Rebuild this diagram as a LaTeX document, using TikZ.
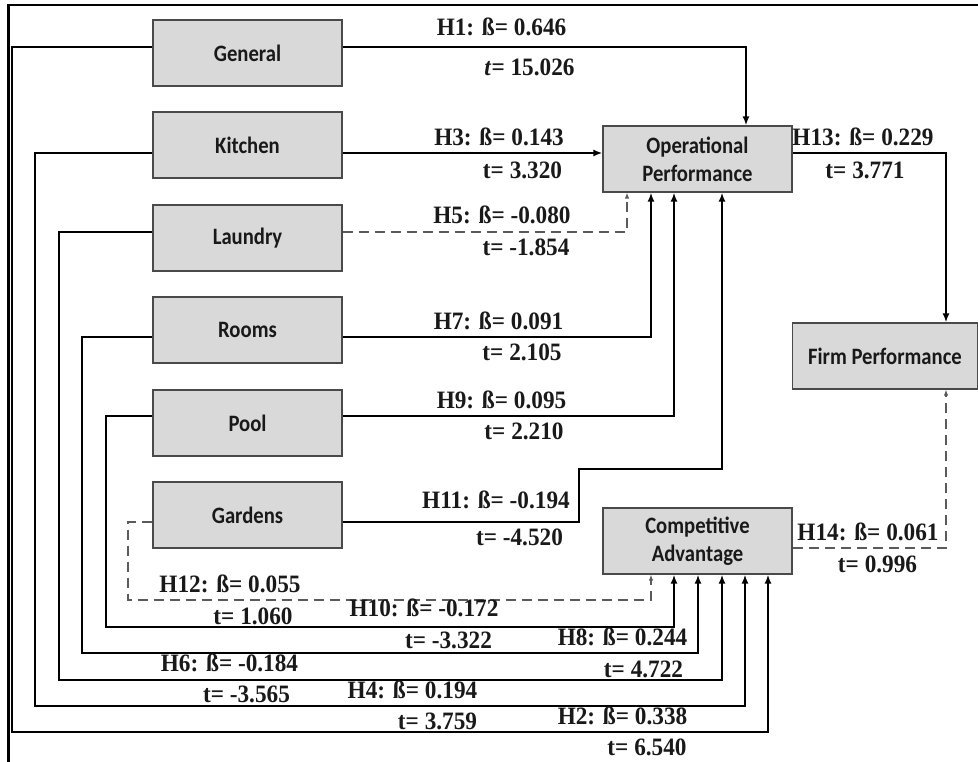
\documentclass[tikz,border=0pt]{standalone}
\usepackage{fontspec}
\setmainfont{Liberation Serif}
\newfontfamily\boxfont[FakeStretch=0.88]{Carlito}
\newfontfamily\lblfont[FakeStretch=0.93]{Liberation Serif}
\usetikzlibrary{arrows.meta}
\definecolor{boxfill}{HTML}{D9D9D9}
\definecolor{boxline}{HTML}{4A4A4A}
\definecolor{dashgray}{HTML}{5A5A5A}
\begin{document}
\begin{tikzpicture}[x=1pt,y=-1pt,
 box/.style={draw=boxline, fill=boxfill, line width=1.2pt, minimum width=189pt, minimum height=66pt, inner sep=0pt, font=\boxfont\bfseries\fontsize{23.5}{28}\selectfont, align=center, text=black!90},
 conn/.style={line width=2pt, draw=black},
 arr/.style={conn, -{Latex[length=9pt,width=7pt]}},
 dsh/.style={line width=1.3pt, draw=dashgray, dash pattern=on 10pt off 6pt, -{Latex[length=6pt,width=4.5pt]}},
 lbl/.style={font=\lblfont\bfseries\fontsize{25}{27}\selectfont, inner sep=0pt, text=black!90}
]
\useasboundingbox (0,0) rectangle (978,762);
% frame
\draw[line width=2.5pt] (8.5,762) -- (8.5,5) -- (978,5);

% boxes
\node[box] (General) at (247.5,53) {General};
\node[box] (Kitchen) at (247.5,145) {Kitchen};
\node[box] (Laundry) at (247.5,238) {Laundry};
\node[box] (Rooms) at (247.5,330) {Rooms};
\node[box] (Pool) at (247.5,423) {Pool};
\node[box] (Gardens) at (247.5,515) {Gardens};
\node[box] (OP) at (697.5,159) {Operational\\Performance};
\node[box] (CA) at (697.5,541) {Competitive\\Advantage};
\node[box, minimum width=185.5pt] (Firm) at (885,356) {Firm Performance};

% connectors to Operational Performance
\draw[arr] (General.east |- 0,47) -| (OP.north -| 746,0);
\draw[arr] (Kitchen.east |- 0,153) -- (OP.west |- 0,153);
\draw[dsh] (Laundry.east |- 0,232) -| (OP.south -| 627,0);
\draw[arr] (Rooms.east |- 0,337) -| (OP.south -| 651,0);
\draw[arr] (Pool.east |- 0,416) -| (OP.south -| 674,0);
\draw[arr] (Gardens.east |- 0,522) -- (579,522) -- (579,469) -| (OP.south -| 722,0);

% connectors to Competitive Advantage
\draw[arr] (General.west |- 0,47) -- (12,47) -- (12,732) -| (CA.south -| 768,0);
\draw[arr] (Kitchen.west |- 0,153) -- (35,153) -- (35,706) -| (CA.south -| 745,0);
\draw[arr] (Laundry.west |- 0,232) -- (59,232) -- (59,680) -| (CA.south -| 722,0);
\draw[arr] (Rooms.west |- 0,337) -- (82,337) -- (82,653) -| (CA.south -| 698,0);
\draw[arr] (Pool.west |- 0,416) -- (106,416) -- (106,627) -| (CA.south -| 674,0);
\draw[dsh] (Gardens.west |- 0,522) -- (128,522) -- (128,600) -| (CA.south -| 651,0);

% to Firm Performance
\draw[arr] (OP.east |- 0,153) -| (Firm.north -| 946,0);
\draw[dsh] (CA.east |- 0,548) -| (Firm.south -| 946,0);

% labels
\node[lbl] (l1b) at (501.5,27) {H1: ß= 0.646};
\node[lbl] (l1t) at (529.5,67) {\textit{t}= 15.026};
\node[lbl] (l3b) at (499,137) {H3: ß= 0.143};
\node[lbl] (l3t) at (522.5,170) {t= 3.320};
\node[lbl] (l5b) at (502,215) {H5: ß= -0.080};
\node[lbl] (l5t) at (526,247) {t= -1.854};
\node[lbl] (l7b) at (498.5,321) {H7: ß= 0.091};
\node[lbl] (l7t) at (522,352) {t= 2.105};
\node[lbl] (l9b) at (501.5,400) {H9: ß= 0.095};
\node[lbl] (l9t) at (524,431) {t= 2.210};
\node[lbl] (l11b) at (496,500) {H11: ß= -0.194};
\node[lbl] (l11t) at (519.5,537) {t= -4.520};
\node[lbl] (l12b) at (230,584) {H12: ß= 0.055};
\node[lbl] (l12t) at (253,616) {t= 1.060};
\node[lbl] (l10b) at (424,608) {H10: ß= -0.172};
\node[lbl] (l10t) at (448.5,640) {t= -3.322};
\node[lbl] (l8b) at (622.5,637) {H8: ß= 0.244};
\node[lbl] (l8t) at (643.5,669) {t= 4.722};
\node[lbl] (l6b) at (229.5,663) {H6: ß= -0.184};
\node[lbl] (l6t) at (246.5,694) {t= -3.565};
\node[lbl] (l4b) at (412.5,690) {H4: ß= 0.194};
\node[lbl] (l4t) at (437.5,721) {t= 3.759};
\node[lbl] (l2b) at (622.5,716) {H2: ß= 0.338};
\node[lbl] (l2t) at (647,747) {t= 6.540};
\node[lbl] (l13b) at (863,137) {H13: ß= 0.229};
\node[lbl] (l13t) at (865,170) {t= 3.771};
\node[lbl] (l14b) at (868,532) {H14: ß= 0.061};
\node[lbl] (l14t) at (877.5,564) {t= 0.996};
\end{tikzpicture}
\end{document}
